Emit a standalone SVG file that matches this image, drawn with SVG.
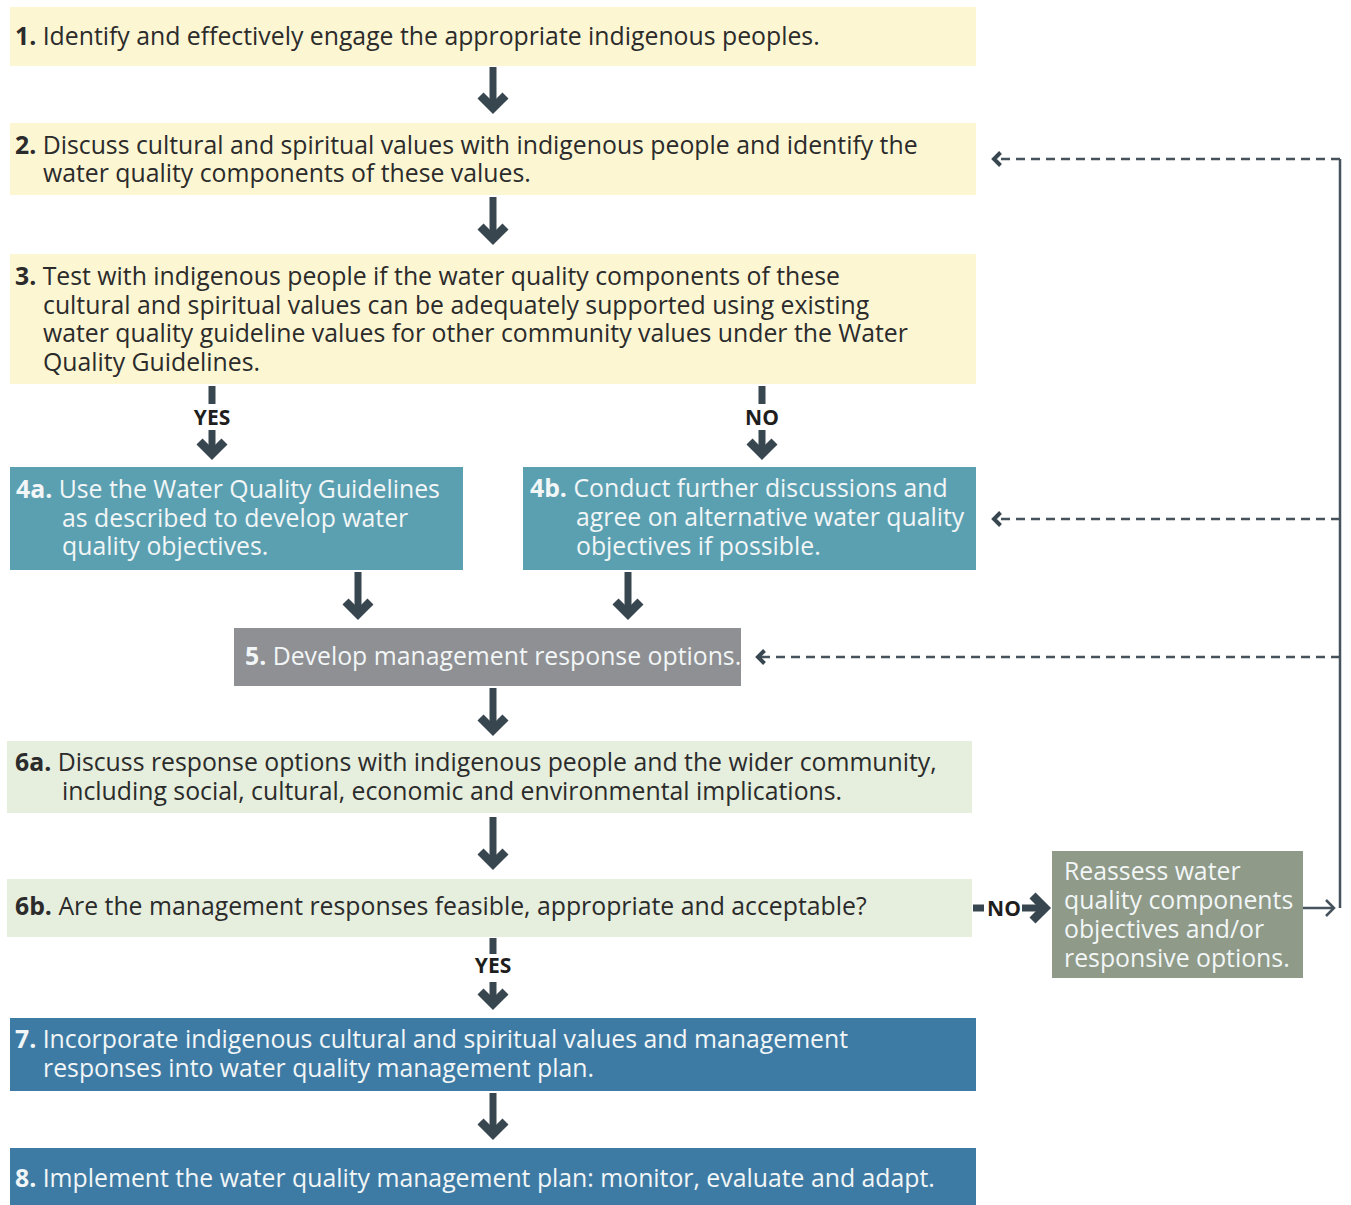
<svg xmlns="http://www.w3.org/2000/svg" width="1351" height="1205" viewBox="0 0 1351 1205">
<style>
.t{font-family:"Open Sans","Noto Sans","Liberation Sans",sans-serif;font-size:24.8px}
.b{font-weight:bold}
.dk{fill:#2b2b2b}
.wt{fill:#f2f6f7}
.lbl{font-family:"Open Sans","Liberation Sans",sans-serif;font-size:21px;font-weight:bold;fill:#1e1e1e;text-anchor:middle}
.yel{fill:#fcf6d3}
.teal{fill:#5ba0b1}
.gry{fill:#8f9093}
.grn{fill:#e6eedd}
.sage{fill:#8f9a88}
.blu{fill:#3e7ba4}
.thick{stroke:#37464f;stroke-width:7;fill:none;marker-end:url(#ah)}
.stub{stroke:#37464f;stroke-width:7;fill:none}
.dash{stroke:#46525c;stroke-width:2.5;stroke-dasharray:9 6;fill:none;marker-end:url(#dh)}
.thin{stroke:#46525c;stroke-width:2.5;fill:none}
</style>
<defs>
<marker id="ah" markerUnits="userSpaceOnUse" markerWidth="40" markerHeight="40" viewBox="0 0 40 40" refX="20" refY="20" orient="auto" overflow="visible">
<path d="M7.5,7.5 L20,20 L7.5,32.5" fill="none" stroke="#37464f" stroke-width="8.5" stroke-linejoin="miter"/>
</marker>
<marker id="dh" markerUnits="userSpaceOnUse" markerWidth="20" markerHeight="20" viewBox="0 0 20 20" refX="10" refY="10" orient="auto" overflow="visible">
<path d="M3.5,3.5 L10,10 L3.5,16.5" fill="none" stroke="#37464f" stroke-width="4" stroke-linejoin="miter"/>
</marker>
<marker id="th" markerUnits="userSpaceOnUse" markerWidth="20" markerHeight="20" viewBox="0 0 20 20" refX="10" refY="10" orient="auto" overflow="visible">
<path d="M2,2 L10,10 L2,18" fill="none" stroke="#46525c" stroke-width="2.5" stroke-linejoin="miter"/>
</marker>
</defs>
<rect width="1351" height="1205" fill="#ffffff"/>

<g id="connectors">
<line class="thick" x1="493" y1="67" x2="493" y2="108"/>
<line class="thick" x1="493" y1="197" x2="493" y2="239"/>
<line class="stub" x1="212" y1="386" x2="212" y2="404"/>
<line class="thick" x1="212" y1="430" x2="212" y2="454"/>
<line class="stub" x1="762" y1="386" x2="762" y2="404"/>
<line class="thick" x1="762" y1="430" x2="762" y2="454"/>
<line class="thick" x1="358" y1="572" x2="358" y2="614"/>
<line class="thick" x1="628" y1="572" x2="628" y2="614"/>
<line class="thick" x1="493" y1="688" x2="493" y2="730"/>
<line class="thick" x1="493" y1="817" x2="493" y2="864"/>
<line class="stub" x1="493" y1="938" x2="493" y2="954"/>
<line class="thick" x1="493" y1="982" x2="493" y2="1004"/>
<line class="thick" x1="493" y1="1093" x2="493" y2="1134"/>
<line class="stub" x1="973" y1="908" x2="984" y2="908"/>
<line class="thick" x1="1022" y1="908" x2="1045" y2="908"/>
<text class="lbl" x="212" y="425">YES</text>
<text class="lbl" x="762" y="425">NO</text>
<text class="lbl" x="493" y="973">YES</text>
<text class="lbl" x="1004" y="916">NO</text>
<polyline class="thin" points="1340,908 1340,159"/>
<line class="thin" x1="1303" y1="908" x2="1334" y2="908" marker-end="url(#th)"/>
<line class="dash" x1="1340" y1="159" x2="994" y2="159"/>
<line class="dash" x1="1340" y1="519" x2="994" y2="519"/>
<line class="dash" x1="1340" y1="657" x2="758" y2="657"/>
</g>

<g id="n1">
<rect class="yel" x="10" y="7" width="966" height="59"/>
<text class="t dk" x="15" y="45"><tspan class="b">1.</tspan> Identify and effectively engage the appropriate indigenous peoples.</text>
</g>
<g id="n2">
<rect class="yel" x="10" y="123" width="966" height="72"/>
<text class="t dk" x="15" y="154"><tspan class="b">2.</tspan> Discuss cultural and spiritual values with indigenous people and identify the</text>
<text class="t dk" x="43" y="182">water quality components of these values.</text>
</g>
<g id="n3">
<rect class="yel" x="10" y="254" width="966" height="130"/>
<text class="t dk" x="15" y="285"><tspan class="b">3.</tspan> Test with indigenous people if the water quality components of these</text>
<text class="t dk" x="43" y="314">cultural and spiritual values can be adequately supported using existing</text>
<text class="t dk" x="43" y="342">water quality guideline values for other community values under the Water</text>
<text class="t dk" x="43" y="371">Quality Guidelines.</text>
</g>
<g id="n4a">
<rect class="teal" x="10" y="467" width="453" height="103"/>
<text class="t wt" x="16" y="498"><tspan class="b">4a.</tspan> Use the Water Quality Guidelines</text>
<text class="t wt" x="62" y="527">as described to develop water</text>
<text class="t wt" x="62" y="555">quality objectives.</text>
</g>
<g id="n4b">
<rect class="teal" x="523" y="467" width="453" height="103"/>
<text class="t wt" x="530" y="497"><tspan class="b">4b.</tspan> Conduct further discussions and</text>
<text class="t wt" x="576" y="526">agree on alternative water quality</text>
<text class="t wt" x="576" y="555">objectives if possible.</text>
</g>
<g id="n5">
<rect class="gry" x="234" y="628" width="507" height="58"/>
<text class="t wt" x="245" y="665"><tspan class="b">5.</tspan> Develop management response options.</text>
</g>
<g id="n6a">
<rect class="grn" x="7" y="741" width="965" height="72"/>
<text class="t dk" x="15" y="771"><tspan class="b">6a.</tspan> Discuss response options with indigenous people and the wider community,</text>
<text class="t dk" x="62" y="800">including social, cultural, economic and environmental implications.</text>
</g>
<g id="n6b">
<rect class="grn" x="7" y="879" width="965" height="58"/>
<text class="t dk" x="15" y="915"><tspan class="b">6b.</tspan> Are the management responses feasible, appropriate and acceptable?</text>
</g>
<g id="nR">
<rect class="sage" x="1052" y="851" width="251" height="127"/>
<text class="t wt" x="1064" y="880">Reassess water</text>
<text class="t wt" x="1064" y="909">quality components</text>
<text class="t wt" x="1064" y="938">objectives and/or</text>
<text class="t wt" x="1064" y="967">responsive options.</text>
</g>
<g id="n7">
<rect class="blu" x="10" y="1018" width="966" height="73"/>
<text class="t wt" x="15" y="1048"><tspan class="b">7.</tspan> Incorporate indigenous cultural and spiritual values and management</text>
<text class="t wt" x="43" y="1077">responses into water quality management plan.</text>
</g>
<g id="n8">
<rect class="blu" x="10" y="1148" width="966" height="57"/>
<text class="t wt" x="15" y="1187"><tspan class="b">8.</tspan> Implement the water quality management plan: monitor, evaluate and adapt.</text>
</g>
</svg>
